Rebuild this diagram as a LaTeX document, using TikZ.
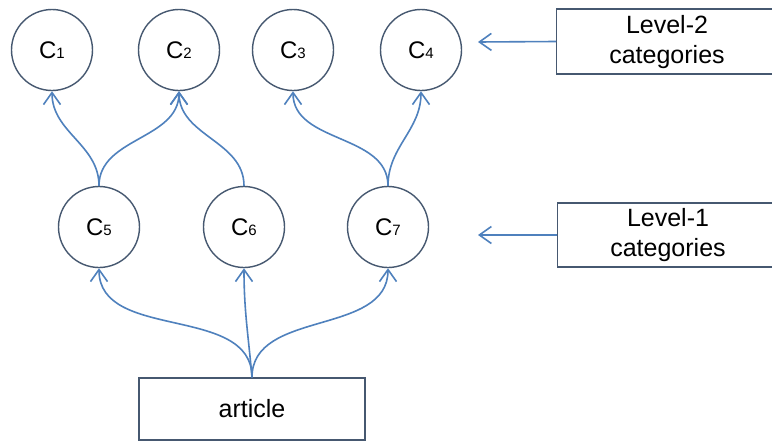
\documentclass[tikz,border=0pt]{standalone}
\usepackage{fontspec}
\setmainfont{Liberation Sans}
\usetikzlibrary{arrows.meta}
\definecolor{arrowblue}{RGB}{79,129,189}
\definecolor{edgegray}{RGB}{70,88,112}
\newcommand{\catlabel}[1]{C{\fontsize{15}{15}\selectfont #1}}
\tikzset{
  cat/.style={circle, draw=edgegray, line width=1.4pt, minimum size=81pt, inner sep=0pt, font=\fontsize{24}{24}\selectfont},
  labelbox/.style={rectangle, draw=edgegray, line width=1.4pt, inner sep=0pt},
  labeltext/.style={inner sep=0pt, align=center, font=\fontsize{25}{30}\selectfont},
  arr/.style={draw=arrowblue, line width=1.6pt, -{Straight Barb[length=12pt,width=17pt,line width=1.6pt]}},
}
\begin{document}
\begin{tikzpicture}[x=1pt,y=-1pt]
\clip (0,0) rectangle (772,442);
\fill[white] (0,0) rectangle (772,442);
% level-2 categories
\node[cat] (c1) at (52,50) {\catlabel{1}};
\node[cat] (c2) at (179,50) {\catlabel{2}};
\node[cat] (c3) at (293,50) {\catlabel{3}};
\node[cat] (c4) at (421,50) {\catlabel{4}};
% level-1 categories
\node[cat] (c5) at (99,227) {\catlabel{5}};
\node[cat] (c6) at (244,227) {\catlabel{6}};
\node[cat] (c7) at (388,227) {\catlabel{7}};
% article
\node[labelbox, minimum width=226pt, minimum height=62pt] (art) at (252,409) {};
\node[labeltext] (arttext) at (art.center) {article};
% legend boxes (cut off by the right edge)
\node[labelbox, anchor=west, minimum width=250pt, minimum height=65pt] (lv2) at (556,41.5) {};
\node[labeltext] (lv2text) at (667,42) {Level-2\\categories};
\node[labelbox, anchor=west, minimum width=250pt, minimum height=64pt] (lv1) at (557,235) {};
\node[labeltext] (lv1text) at (668,235) {Level-1\\categories};
\coordinate (lv2tip) at (478,42);
\coordinate (lv1tip) at (478,235);
% connectors
\draw[arr] (art.north) to[out=90,in=-90] (c5.south);
\draw[arr] (art.north) to[out=95,in=-90] (c6.south);
\draw[arr] (art.north) to[out=90,in=-90] (c7.south);
\draw[arr] (c5.north) to[out=90,in=-90] (c1.south);
\draw[arr] (c5.north) to[out=90,in=-90] (c2.south);
\draw[arr] (c6.north) to[out=90,in=-90] (c2.south);
\draw[arr] (c7.north) to[out=90,in=-90] (c3.south);
\draw[arr] (c7.north) to[out=90,in=-90] (c4.south);
\draw[arr] (lv2.west) -- (lv2tip);
\draw[arr] (lv1.west) -- (lv1tip);
\end{tikzpicture}
\end{document}
